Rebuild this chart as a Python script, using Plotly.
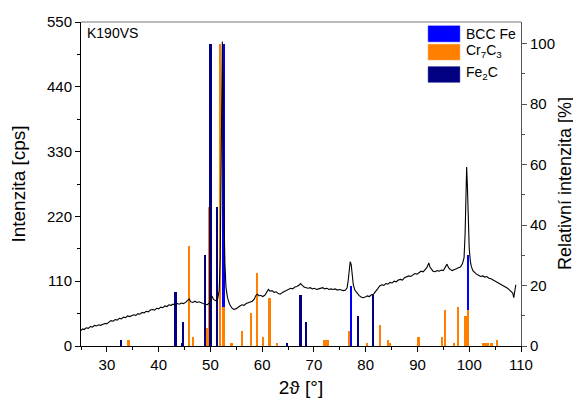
import plotly.graph_objects as go

# ---- measured XRD pattern (2theta in deg, intensity in cps) ----
two_theta = [25.0,25.3,25.6,26.0,26.4,26.8,27.2,27.6,28.0,28.4,28.8,29.2,29.6,30.0,30.4,30.8,31.2,31.6,32.0,32.4,32.8,
             33.2,33.6,34.0,34.4,34.8,35.2,35.6,36.0,36.4,36.8,37.2,37.6,38.0,38.4,38.8,39.2,39.6,40.0,40.4,40.8,41.2,
             41.6,42.0,42.4,42.8,43.2,43.6,44.0,44.4,44.8,45.2,45.6,45.9,46.2,46.6,47.0,47.4,47.8,48.2,48.6,49.0,49.4,
             49.8,50.1,50.3,50.6,51.0,51.4,51.7,51.9,52.05,52.15,52.25,52.3,52.4,52.5,52.65,52.8,53.0,53.3,53.7,54.1,
             54.5,54.9,55.3,55.7,56.1,56.5,56.9,57.3,57.7,58.1,58.5,58.8,59.1,59.4,59.7,60.1,60.5,60.9,61.2,61.5,61.9,
             62.3,62.7,63.1,63.5,63.9,64.3,64.7,65.1,65.5,65.9,66.3,66.7,67.1,67.4,67.7,68.1,68.5,68.9,69.3,69.7,70.1,
             70.5,70.9,71.3,71.7,72.1,72.5,72.9,73.3,73.7,74.1,74.5,74.9,75.3,75.7,76.1,76.4,76.6,76.8,77.0,77.2,77.4,
             77.6,77.9,78.3,78.7,79.1,79.5,79.9,80.3,80.7,81.1,81.5,81.9,82.3,82.7,83.1,83.5,83.9,84.3,84.7,85.1,85.5,
             85.9,86.3,86.7,87.1,87.5,87.9,88.3,88.7,89.1,89.5,89.9,90.3,90.7,91.1,91.5,91.8,92.0,92.2,92.4,92.7,93.0,
             93.4,93.8,94.2,94.6,95.0,95.4,95.7,96.0,96.3,96.7,97.1,97.5,97.9,98.3,98.7,99.0,99.2,99.35,99.5,99.65,
             99.8,100.0,100.2,100.4,100.7,101.0,101.4,101.8,102.2,102.6,103.0,103.4,103.8,104.2,104.6,105.0,105.4,
             105.8,106.2,106.6,107.0,107.4,107.8,108.1,108.4,108.6,108.8,109.0]
intensity = [26,29,28,31,30,33,32,35,34,36,35,37,38,38,40,43,42,45,44,47,46,
             49,48,51,50,52,53,52,55,54,57,56,59,58,61,62,61,64,63,66,65,68,
             67,70,69,71,70,72,71,73,72,74,77,80,75,74,76,74,75,73,72,71,70,
             73,80,85,79,77,80,95,150,260,400,510,517,460,330,210,140,100,82,71,65,
             62,63,66,68,70,69,72,73,75,76,80,86,88,85,86,84,86,91,96,93,94,
             91,92,89,88,91,93,95,96,98,97,100,101,103,106,103,100,99,98,99,97,98,
             96,97,98,99,97,98,96,97,96,97,95,96,95,94,95,99,110,130,143,138,120,
             104,95,90,86,83,82,83,85,84,87,88,92,97,102,104,103,106,105,108,107,110,
             109,112,113,112,116,117,119,118,121,123,122,125,127,126,130,133,137,141,134,130,127,
             126,128,127,129,128,134,139,133,130,128,129,131,133,134,140,150,190,260,304,270,
             210,165,145,135,128,125,122,120,118,119,117,118,115,114,112,111,108,
             106,105,102,100,98,95,93,90,82,93,104]

# ---- reference phases (2theta in deg, relative intensity in %) ----
bcc_fe_pos = [52.5, 77.2, 99.7]
bcc_fe_rel = [100, 20, 30]

cr7c3_pos = [34.2, 45.8, 46.6, 49.4, 49.7, 51.8, 52.5, 54.1, 56.1, 57.9, 59.0, 60.1, 61.4, 62.9,
             72.05, 72.4, 72.7, 76.8, 80.3, 82.8, 84.3, 84.6, 90.2, 94.8, 95.3, 97.1, 97.8, 99.3,
             99.7, 102.7, 103.0, 103.5, 104.2, 104.4, 105.3]
cr7c3_rel = [2, 33, 3, 6, 46, 100, 13, 1, 5, 11, 24, 3, 16, 1,
             2, 2, 2, 5, 1, 7, 2, 1, 3, 3, 12, 1, 13, 10,
             12, 1, 1, 1, 1, 1, 2]

fe2c_pos = [32.7, 43.25, 44.5, 44.7, 49.0, 50.0, 51.3, 64.85, 67.4, 68.5, 78.45, 81.4]
fe2c_rel = [2, 18, 1, 8, 30, 100, 46, 1, 17, 8, 10, 17]

x_ticks = [30, 40, 50, 60, 70, 80, 90, 100, 110]
cps_ticks = [0, 110, 220, 330, 440, 550]
rel_ticks = [0, 20, 40, 60, 80, 100]

C_BCC = "#0000FF"
C_CR = "#FF8000"
C_FE2C = "#000080"
FONT = "Liberation Sans, Arial, sans-serif"
BW = 0.45

fig = go.Figure()
fig.add_trace(go.Bar(x=bcc_fe_pos, y=bcc_fe_rel, width=[BW]*len(bcc_fe_pos), name="BCC Fe",
                     marker=dict(color=C_BCC, line=dict(width=0)), yaxis="y", showlegend=False))
fig.add_trace(go.Bar(x=cr7c3_pos, y=cr7c3_rel, width=[BW]*len(cr7c3_pos), name="Cr<sub>7</sub>C<sub>3</sub>",
                     marker=dict(color=C_CR, line=dict(width=0)), yaxis="y", showlegend=False))
fig.add_trace(go.Bar(x=fe2c_pos, y=fe2c_rel, width=[BW]*len(fe2c_pos), name="Fe<sub>2</sub>C",
                     marker=dict(color=C_FE2C, line=dict(width=0)), yaxis="y", showlegend=False))
fig.add_trace(go.Scatter(x=two_theta, y=intensity, mode="lines", name="K190VS",
                         line=dict(color="black", width=1.1), yaxis="y2", showlegend=False))

tickfont = dict(family=FONT, size=15, color="black")
titlefont = dict(family=FONT, size=19, color="black")

# the page body has an 8px margin, so the figure is sized to fill the rest of the window
fig.update_layout(
    width=573, height=399,
    margin=dict(l=73, r=60, t=14, b=61, autoexpand=False),
    paper_bgcolor="white", plot_bgcolor="white",
    barmode="overlay", bargap=0,
    font=dict(family=FONT, color="black"),
    xaxis=dict(range=[25, 110], tickvals=x_ticks, ticks="outside", ticklen=5, tickwidth=1,
               tickcolor="black", showline=True, linecolor="black", linewidth=1, automargin=False,
               showgrid=False, zeroline=False, tickfont=tickfont,
               minor=dict(dtick=5, tick0=25, ticks="outside", ticklen=3, tickcolor="black", showgrid=False),
               title=dict(text="2\u03d1 [\u00b0]", font=titlefont, standoff=8)),
    yaxis=dict(range=[0, 107.2], tickvals=rel_ticks, side="right", ticks="outside", ticklen=5,
               tickcolor="#555555", showline=True, linecolor="#555555", linewidth=1, automargin=False,
               showgrid=False, zeroline=False, tickfont=tickfont,
               minor=dict(dtick=10, tick0=0, ticks="outside", ticklen=3, tickcolor="#555555", showgrid=False)),
    yaxis2=dict(range=[0, 550], tickvals=cps_ticks, side="left", overlaying="y", ticks="outside",
                ticklen=5, tickcolor="black", showline=True, linecolor="black", linewidth=1, automargin=False,
                showgrid=False, zeroline=False, tickfont=tickfont,
                minor=dict(dtick=55, tick0=0, ticks="outside", ticklen=3, tickcolor="black", showgrid=False),
                title=dict(text="Intenzita [cps]", font=titlefont, standoff=17)),
)

# right axis title (placed explicitly so it stays inside the window)
fig.add_annotation(text="Relativn\u00ed intenzita [%]", xref="paper", yref="paper", x=1, y=0.5,
                   xanchor="left", yanchor="middle", xshift=32, textangle=-90, showarrow=False,
                   font=dict(family=FONT, size=18, color="black"))

# top frame line
fig.add_shape(type="line", xref="paper", yref="paper", x0=0, x1=1, y0=1, y1=1,
              line=dict(color="#777777", width=1))

# sample label
fig.add_annotation(text="K190VS", xref="paper", yref="paper", x=0.009, y=0.966,
                   xanchor="left", yanchor="middle", showarrow=False,
                   font=dict(family=FONT, size=14, color="black"))

# legend (drawn manually to match the large swatches)
legend_items = [("BCC Fe", C_BCC, 0.988, 0.939, 0.962),
                ("Cr<sub>7</sub>C<sub>3</sub>", C_CR, 0.931, 0.883, 0.912),
                ("Fe<sub>2</sub>C", C_FE2C, 0.862, 0.814, 0.842)]
for label, col, y1, y0, yt in legend_items:
    fig.add_shape(type="rect", xref="paper", yref="paper", x0=0.789, x1=0.861, y0=y0, y1=y1,
                  fillcolor=col, line=dict(color=col, width=0.5))
    fig.add_annotation(text=label, xref="paper", yref="paper", x=0.871, y=yt,
                       xanchor="left", yanchor="middle", showarrow=False,
                       font=dict(family=FONT, size=14, color="black"))

fig.write_html("out.html")
